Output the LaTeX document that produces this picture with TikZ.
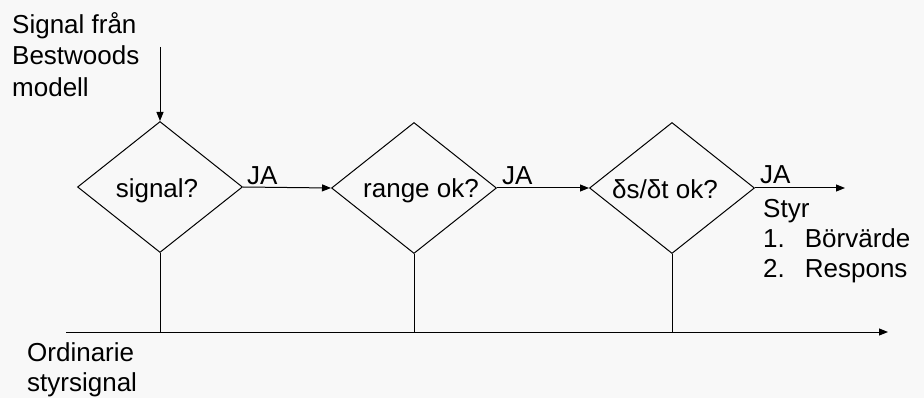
\documentclass[tikz,border=0pt]{standalone}
\usepackage{fontspec}
\setmainfont{Liberation Sans}
\usetikzlibrary{shapes.geometric,arrows.meta}
\definecolor{bg}{HTML}{F8F8F8}
\begin{document}
\begin{tikzpicture}[x=1pt,y=-1pt,
  every node/.style={font=\fontsize{26}{31}\selectfont, inner sep=0pt},
  decision/.style={diamond, draw, line width=1pt, minimum width=165pt, minimum height=131pt, inner sep=0pt},
  flow/.style={line width=1pt, -{Triangle[length=9pt,width=7pt]}},
  plain/.style={line width=1pt},
  txt/.style={anchor=base west, align=left}]
  % canvas
  \path[fill=bg] (0,0) rectangle (924,398);

  % decision diamonds
  \node[decision] (d1) at (160,187) {};
  \node[decision] (d2) at (414,188) {};
  \node[decision] (d3) at (672,188) {};
  \node (t1) at (157,191) {signal?};
  \node (t2) at (421,191) {range ok?};
  \node (t3) at (665,189) {δs/δt ok?};

  % input from the model
  \node[txt] (src) at (12,34) {Signal från};
  \node[txt] (src2) at (12,65) {Bestwoods};
  \node[txt] (src3) at (12,97) {modell};
  \coordinate (in) at (160,47);
  \draw[flow] (in) -- (d1.north);

  % yes branches
  \coordinate (out) at (845,188);
  \draw[flow] (d1.east) -- (d2.west);
  \draw[flow] (d2.east) -- (d3.west);
  \draw[flow] (d3.east) -- (out);
  \node[txt] (ja1) at (247,185) {JA};
  \node[txt] (ja2) at (502,185) {JA};
  \node[txt] (ja3) at (760,184) {JA};

  % result list
  \node[anchor=north west] (res) at (763,196) {%
    \begin{tabular}{@{}l@{\hspace{20pt}}l@{}}
      \multicolumn{2}{@{}l}{Styr}\\[-1pt]
      1. & Börvärde\\[-1pt]
      2. & Respons
    \end{tabular}};

  % ordinary control signal
  \coordinate (base0) at (66,332);
  \coordinate (base1) at (888,332);
  \draw[flow] (base0) -- (base1);
  \draw[plain] (d1.south) -- (d1.south |- base0);
  \draw[plain] (d2.south) -- (d2.south |- base0);
  \draw[plain] (d3.south) -- (d3.south |- base0);
  \node[txt] (ord) at (27,361) {Ordinarie};
  \node[txt] (ord2) at (27,391) {styrsignal};
\end{tikzpicture}
\end{document}
